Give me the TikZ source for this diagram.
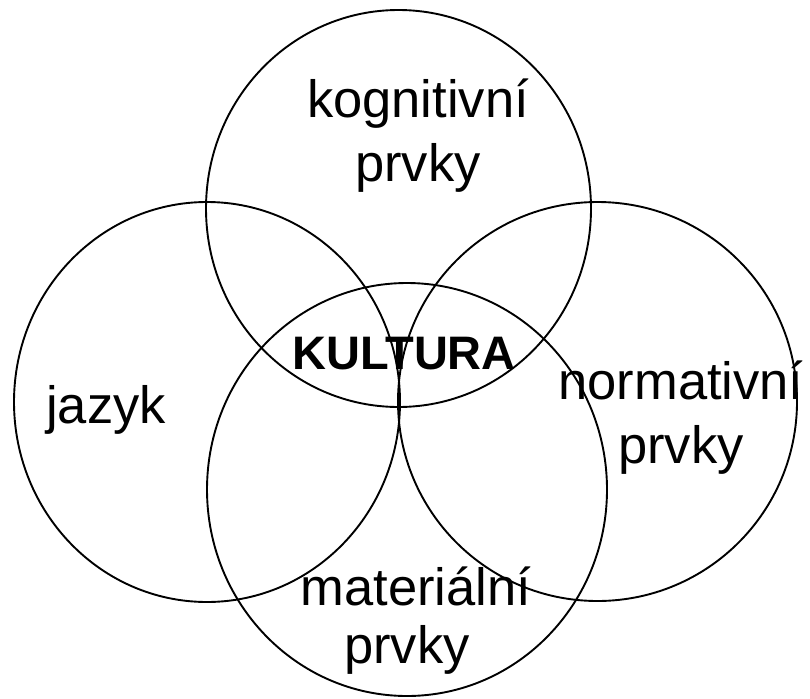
\documentclass[tikz,border=0pt]{standalone}
\usepackage{fontspec}
\setmainfont{Liberation Sans}
\begin{document}
\begin{tikzpicture}[x=1pt,y=-1pt,
  ring/.style={draw=black,line width=1.9pt},
  lbl/.style={align=center,inner sep=0pt,font=\fontsize{52.5}{64}\selectfont},
  mainlbl/.style={inner sep=0pt,font=\fontsize{47}{56}\selectfont\bfseries}]
\useasboundingbox[fill=white] (0,0) rectangle (810,698);
\draw[ring] (398.5,208.5) ellipse [x radius=192.5pt, y radius=198.5pt];
\draw[ring] (207,402) ellipse [x radius=193pt, y radius=200pt];
\draw[ring] (597.5,401.5) ellipse [x radius=199.5pt, y radius=199.5pt];
\draw[ring] (407,489.5) ellipse [x radius=200pt, y radius=206.5pt];
\node[lbl] (kog) at (418,136) {kognitivní\\prvky};
\node[lbl] (jaz) at (106,410) {jazyk};
\node[lbl] (nor) at (681,418) {normativní\\prvky};
\node[lbl] (mat1) at (416,586) {materiální};
\node[lbl] (mat2) at (407,650) {prvky};
\node[mainlbl] (kul) at (404,354) {KULTURA};
\end{tikzpicture}
\end{document}
